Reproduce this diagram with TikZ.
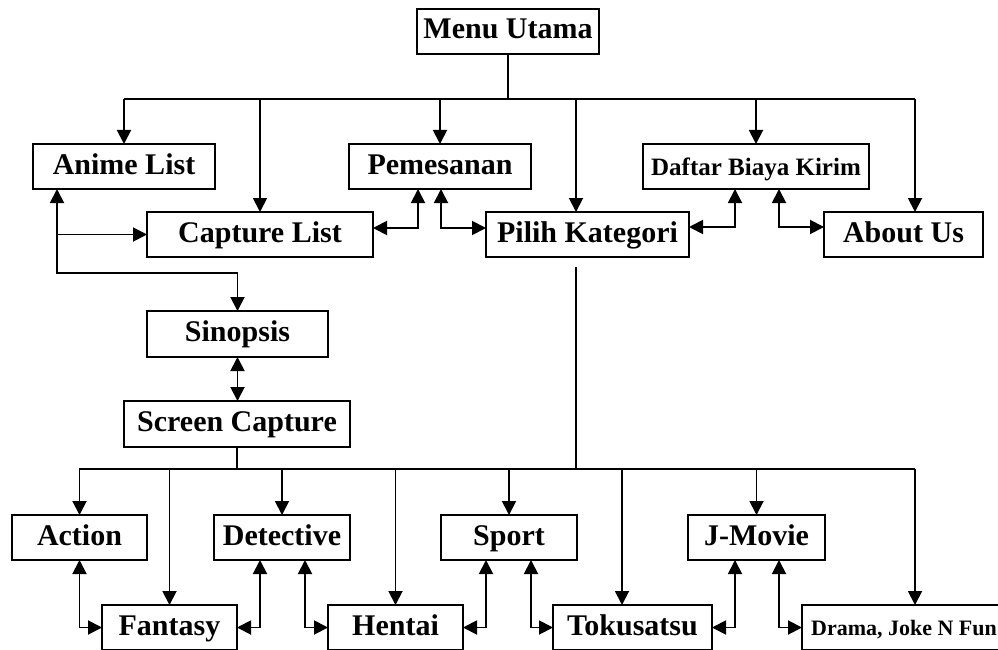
\documentclass[tikz,border=0pt]{standalone}
\usepackage{fontspec}
\setmainfont{Liberation Serif}
\usetikzlibrary{arrows.meta}
\begin{document}
\begin{tikzpicture}[x=1pt,y=-1pt,line width=1.9pt,
  box/.style={draw,inner sep=0pt,outer sep=0pt,minimum height=45pt,
    font=\bfseries\fontsize{30}{36}\selectfont,text height=20pt,text depth=5pt},
  smallbox/.style={box,font=\bfseries\fontsize{25}{30}\selectfont,text height=19pt,text depth=2pt},
  tinybox/.style={box,font=\bfseries\fontsize{22}{26}\selectfont},
  arr/.style={-{Triangle[length=14pt,width=14pt]}},
  biarr/.style={{Triangle[length=14pt,width=14pt]}-{Triangle[length=14pt,width=14pt]}}]
\useasboundingbox (0,0) rectangle (998,650);
% nodes
\node[box,minimum width=182pt] (menu) at (508,31.5) {Menu Utama};
\node[box,minimum width=182pt] (anime) at (124,166.5) {Anime List};
\node[box,minimum width=226pt] (capl) at (260,234.5) {Capture List};
\node[box,minimum width=182pt] (pemes) at (440,166.5) {Pemesanan};
\node[box,minimum width=203pt] (pilih) at (587.5,234.5) {Pilih Kategori};
\node[smallbox,minimum width=226pt] (daftar) at (756,166.5) {Daftar Biaya Kirim};
\node[box,minimum width=159pt] (about) at (903.5,234.5) {About Us};
\node[box,minimum width=181pt,minimum height=46pt] (sinop) at (237.5,334) {Sinopsis};
\node[box,minimum width=226pt,minimum height=46pt] (screen) at (237,424) {Screen Capture};
\node[box,minimum width=135pt] (action) at (79.5,537.5) {Action};
\node[box,minimum width=135pt] (fantasy) at (169.5,627.5) {Fantasy};
\node[box,minimum width=136pt] (detective) at (282,537.5) {Detective};
\node[box,minimum width=135pt] (hentai) at (395.5,627.5) {Hentai};
\node[box,minimum width=136pt] (sport) at (509,537.5) {Sport};
\node[box,minimum width=159pt] (toku) at (632.5,627.5) {Tokusatsu};
\node[box,minimum width=137pt] (jmovie) at (756.5,537.5) {J-Movie};
\node[tinybox,minimum width=204pt] (drama) at (904,627.5) {Drama, Joke N Fun};
% top bus
\coordinate (b1) at (508,99);
\coordinate (t1) at (124,99);
\coordinate (t2) at (915,99);
\draw (menu.south) -- (b1);
\draw (t1) -- (t2);
\draw[arr] (t1) -- (anime.north);
\draw[arr] (capl.north |- b1) -- (capl.north);
\draw[arr] (pemes.north |- b1) -- (pemes.north);
\draw[arr] ([xshift=-11.5pt]pilih.north |- b1) -- ([xshift=-11.5pt]pilih.north);
\draw[arr] (daftar.north |- b1) -- (daftar.north);
\draw[arr] (t2) -- ([xshift=11.5pt]about.north);
% links in upper row
\coordinate (k1) at (57,273);
\draw[biarr] ([xshift=-67pt]anime.south) -- (k1) -| (sinop.north);
\draw[arr] (k1 |- capl.west) -- (capl.west);
\draw[biarr] ([yshift=6.5pt]capl.east) -| ([xshift=-22pt]pemes.south);
\draw[biarr] ([xshift=1pt]pemes.south) |- ([yshift=6.5pt]pilih.west);
\draw[biarr] ([yshift=7.5pt]pilih.east) -| ([xshift=-21pt]daftar.south);
\draw[biarr] ([xshift=23pt]daftar.south) |- ([yshift=7.5pt]about.west);
\draw[biarr] (sinop.south) -- (sinop.south |- screen.north);
% bottom bus
\coordinate (b2) at (237,469);
\coordinate (p1) at (576,267);
\coordinate (u1) at (79,469);
\coordinate (u2) at (915,469);
\draw (screen.south) -- (b2);
\draw (p1) -- (p1 |- b2);
\draw (u1) -- (u2);
\draw[arr] (action.north |- b2) -- (action.north);
\draw[arr] (fantasy.north |- b2) -- (fantasy.north);
\draw[arr] (detective.north |- b2) -- (detective.north);
\draw[arr] (hentai.north |- b2) -- (hentai.north);
\draw[arr] (sport.north |- b2) -- (sport.north);
\draw[arr] ([xshift=-10.5pt]toku.north |- b2) -- ([xshift=-10.5pt]toku.north);
\draw[arr] (jmovie.north |- b2) -- (jmovie.north);
\draw[arr] (u2) -- (u2 |- drama.north);
% links in bottom rows
\draw[biarr] (action.south) |- (fantasy.west);
\draw[biarr] (fantasy.east) -| ([xshift=-22pt]detective.south);
\draw[biarr] ([xshift=23pt]detective.south) |- (hentai.west);
\draw[biarr] (hentai.east) -| ([xshift=-23pt]sport.south);
\draw[biarr] ([xshift=22pt]sport.south) |- (toku.west);
\draw[biarr] (toku.east) -| ([xshift=-21.5pt]jmovie.south);
\draw[biarr] ([xshift=22.5pt]jmovie.south) |- (drama.west);
\end{tikzpicture}
\end{document}
